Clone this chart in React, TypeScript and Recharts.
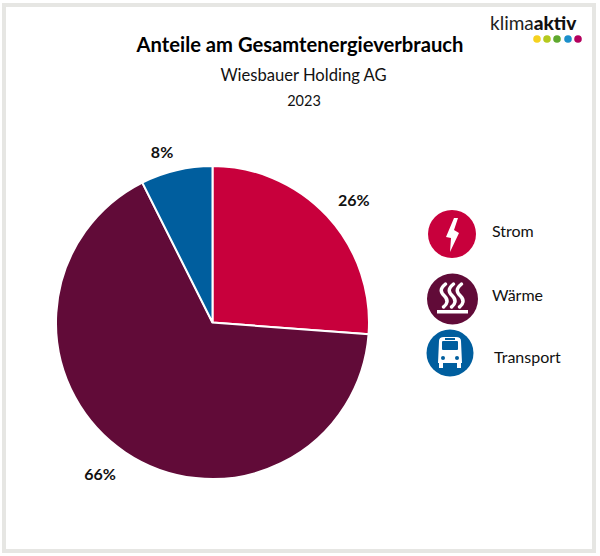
import React from "react";
import { PieChart, Pie, Cell } from "recharts";

const categories = ["Strom", "Wärme", "Transport"];
const shares = [26.2, 66.4, 7.4];
const printedLabels = ["26%", "66%", "8%"];
const colors = ["#C8003C", "#610B38", "#005E9E"];
const logoDots = ["#F5D21F", "#B5C91E", "#5FA82E", "#1B8FCB", "#B4005E"];
const pieData = categories.map((name, i) => ({ name, value: shares[i] }));

const FONT = "Lato, 'Open Sans', sans-serif";
const labelShift = [
  { dx: 3, dy: 5 },
  { dx: -7.5, dy: -6 },
  { dx: -7, dy: 12 },
];

const renderLabel = (p: any) => {
  const rad = (-p.midAngle * Math.PI) / 180;
  const r = p.outerRadius + 32;
  const s = labelShift[p.index];
  return (
    <text
      x={p.cx + r * Math.cos(rad) + s.dx}
      y={p.cy + r * Math.sin(rad) + s.dy}
      textAnchor="middle"
      dominantBaseline="central"
      fontFamily={FONT}
      fontWeight={700}
      fontSize={16}
      fill="#111"
    >
      {printedLabels[p.index]}
    </text>
  );
};

const Icon = ({ i, cx, cy, r }: { i: number; cx: number; cy: number; r: number }) => (
  <g>
    <circle cx={cx} cy={cy} r={r} fill={colors[i]} />
    {i === 0 && (
      <path
        d={`M${cx + 2} ${cy - 16} L${cx + 6} ${cy - 16} L${cx + 2} ${cy - 4} L${cx + 7} ${cy - 1} L${cx - 2} ${cy + 18} L${cx - 1} ${cy + 4} L${cx - 6} ${cy + 3} Z`}
        fill="#fff"
      />
    )}
    {i === 1 && (
      <g>
        {[-8, 0, 8].map((o) => (
          <path
            key={o}
            d={`M${cx + o + 1} ${cy - 15} C${cx + o - 5} ${cy - 10} ${cx + o - 4} ${cy - 7} ${cx + o} ${cy - 3} C${cx + o + 4} ${cy + 1} ${cx + o + 3} ${cy + 5} ${cx + o - 1} ${cy + 8}`}
            stroke="#fff"
            strokeWidth={3.5}
            fill="none"
            strokeLinecap="round"
          />
        ))}
        <rect x={cx - 15.5} y={cy + 11} width={31} height={3.5} fill="#fff" />
      </g>
    )}
    {i === 2 && (
      <g fill="#fff">
        <path
          d={`M${cx - 11} ${cy - 12} Q${cx - 11} ${cy - 16} ${cx - 6} ${cy - 16} L${cx + 6} ${cy - 16} Q${cx + 11} ${cy - 16} ${cx + 11} ${cy - 12} L${cx + 12} ${cy + 10} L${cx - 12} ${cy + 10} Z`}
        />
        <rect x={cx - 8} y={cy - 12} width={16} height={9} fill={colors[2]} rx={1} />
        <rect x={cx - 5} y={cy - 15} width={10} height={2} fill={colors[2]} />
        <rect x={cx - 11} y={cy + 10} width={4} height={5} />
        <rect x={cx + 7} y={cy + 10} width={4} height={5} />
        <circle cx={cx - 7} cy={cy + 5} r={2} fill={colors[2]} />
        <circle cx={cx + 7} cy={cy + 5} r={2} fill={colors[2]} />
      </g>
    )}
  </g>
);

const legendIcons = [
  { cx: 452, cy: 234, r: 24 },
  { cx: 452.5, cy: 299, r: 25.5 },
  { cx: 450, cy: 353, r: 23.5 },
];
const legendText = [
  { x: 492, y: 237 },
  { x: 492, y: 301 },
  { x: 494, y: 363 },
];
const logoDotX = [537, 547, 557, 568, 578];

export default function App() {
  return (
    <div style={{ position: "absolute", left: 0, top: 0, width: 600, height: 556, background: "#fff", overflow: "hidden" }}>
      <div
        style={{
          position: "absolute",
          left: 2,
          top: 3,
          width: 594,
          height: 550,
          boxSizing: "border-box",
          border: "4.5px solid #E6E6E3",
        }}
      />
      <div style={{ position: "absolute", left: 0, top: 0 }}>
        <PieChart width={600} height={556} margin={{ top: 0, right: 0, bottom: 0, left: 0 }}>
          <Pie
            data={pieData}
            dataKey="value"
            nameKey="name"
            cx={212.5}
            cy={322.5}
            outerRadius={156.5}
            startAngle={90}
            endAngle={-270}
            stroke="#fff"
            strokeWidth={2}
            label={renderLabel}
            labelLine={false}
            isAnimationActive={false}
          >
            {pieData.map((d, i) => (
              <Cell key={d.name} fill={colors[i]} />
            ))}
          </Pie>
        </PieChart>
      </div>
      <svg width={600} height={556} style={{ position: "absolute", left: 0, top: 0 }}>
        <text x={300} y={52} textAnchor="middle" fontFamily={FONT} fontWeight={700} fontSize={20.2} fill="#000">
          Anteile am Gesamtenergieverbrauch
        </text>
        <text x={303.5} y={81} textAnchor="middle" fontFamily={FONT} fontSize={16.6} fill="#111">
          Wiesbauer Holding AG
        </text>
        <text x={304} y={106} textAnchor="middle" fontFamily={FONT} fontSize={14.5} fill="#111">
          2023
        </text>
        {categories.map((c, i) => (
          <g key={c}>
            <Icon i={i} {...legendIcons[i]} />
            <text x={legendText[i].x} y={legendText[i].y} fontFamily={FONT} fontSize={16} fill="#111">
              {c}
            </text>
          </g>
        ))}
        <text x={490} y={30} fontFamily={FONT} fontSize={19} fill="#222">
          klima<tspan fontWeight={900} fill="#111">aktiv</tspan>
        </text>
        {logoDots.map((d, i) => (
          <circle key={d} cx={logoDotX[i]} cy={39} r={3.8} fill={d} />
        ))}
      </svg>
    </div>
  );
}
